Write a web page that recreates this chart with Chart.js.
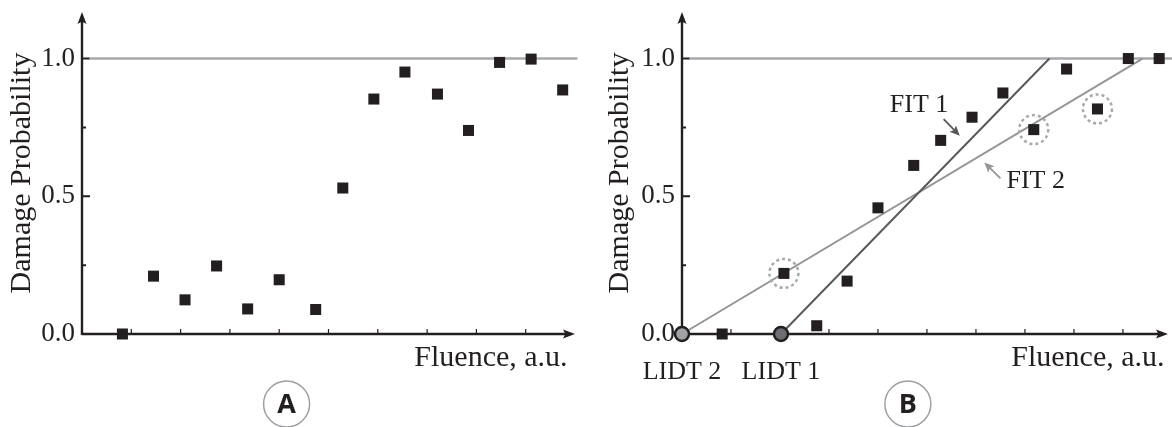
<!DOCTYPE html>
<html>
<head>
<meta charset="utf-8">
<script src="https://cdn.jsdelivr.net/npm/chart.js@4"></script>
<style>
    html, body { margin: 0; padding: 0; background: #fff; }
    #wrap { position: relative; width: 1172px; height: 427px; overflow: hidden; }
    #chartA { position: absolute; left: 0; top: 0; }
    #chartB { position: absolute; left: 586px; top: 0; }
</style>
</head>
<body>
<div id="wrap">
    <canvas id="chartA" width="586" height="427"></canvas>
    <canvas id="chartB" width="586" height="427"></canvas>
</div>
<script>
// panel A: raw damage probability per fluence step
var fluenceA = [0.82, 1.45, 2.09, 2.73, 3.36, 4.0, 4.74, 5.29, 5.92, 6.55, 7.21, 7.84, 8.47, 9.11, 9.75];
var probA = [0.0, 0.21, 0.124, 0.247, 0.091, 0.197, 0.089, 0.53, 0.853, 0.951, 0.871, 0.739, 0.986, 0.998, 0.886];

// panel B: sorted data with two linear fits
var fluenceB = [0.82, 2.08, 2.75, 3.37, 4.0, 4.73, 5.28, 5.92, 6.55, 7.18, 7.85, 8.48, 9.11, 9.74];
var probB = [0.0, 0.22, 0.03, 0.192, 0.458, 0.612, 0.703, 0.787, 0.875, 0.742, 0.962, 0.817, 1.0, 1.0];
var circledIdx = [1, 9, 11];

var fit1X = [2.02, 7.5];
var fit1Y = [0, 1];
var fit2X = [0, 9.4];
var fit2Y = [0, 1];

var lidtX = [0, 2.02];
var lidtY = [0, 0];
var lidtLabels = ["LIDT 2", "LIDT 1"];

var yTickValues = [0, 0.5, 1.0];
var yMinorTicks = [0.25, 0.75];
var xTickValues = [1, 2, 3, 4, 5, 6, 7, 8, 9];

var INK = "#231f20";
var SERIF = "'Liberation Serif', 'Times New Roman', serif";

function toPoints(xs, ys) {
    return xs.map(function(x, i) { return { x: x, y: ys[i] }; });
}

function arrowHead(ctx, x, y, angle, len, half) {
    ctx.save();
    ctx.translate(x, y);
    ctx.rotate(angle);
    ctx.beginPath();
    ctx.moveTo(0, 0);
    ctx.lineTo(-len, -half);
    ctx.lineTo(-len * 0.8, 0);
    ctx.lineTo(-len, half);
    ctx.closePath();
    ctx.fill();
    ctx.restore();
}

function arrow(ctx, x1, y1, x2, y2, color) {
    var a = Math.atan2(y2 - y1, x2 - x1);
    ctx.save();
    ctx.strokeStyle = color;
    ctx.fillStyle = color;
    ctx.lineWidth = 1.8;
    ctx.beginPath();
    ctx.moveTo(x1, y1);
    ctx.lineTo(x2 - 6 * Math.cos(a), y2 - 6 * Math.sin(a));
    ctx.stroke();
    arrowHead(ctx, x2, y2, a, 10, 4.5);
    ctx.restore();
}

// hand drawn axes with arrow tips and inward ticks
var axesPlugin = {
    id: "axes",
    beforeDatasetsDraw: function(chart) {
        var ctx = chart.ctx, area = chart.chartArea;
        var xs = chart.scales.x, ys = chart.scales.y;
        var x0 = xs.getPixelForValue(0), y0 = ys.getPixelForValue(0);
        ctx.save();
        ctx.strokeStyle = INK;
        ctx.fillStyle = INK;
        ctx.lineWidth = 1.2;
        ctx.beginPath();
        xTickValues.forEach(function(v) {
            var px = xs.getPixelForValue(v);
            ctx.moveTo(px, y0);
            ctx.lineTo(px, y0 - 5);
        });
        ctx.stroke();
        ctx.lineWidth = 2;
        ctx.beginPath();
        yTickValues.forEach(function(v) {
            var py = ys.getPixelForValue(v);
            ctx.moveTo(x0, py);
            ctx.lineTo(x0 + 8, py);
        });
        yMinorTicks.forEach(function(v) {
            var py = ys.getPixelForValue(v);
            ctx.moveTo(x0 - 1, py);
            ctx.lineTo(x0 + 4, py);
        });
        ctx.stroke();
        ctx.lineWidth = 2.4;
        ctx.beginPath();
        ctx.moveTo(x0, y0);
        ctx.lineTo(area.right - 6, y0);
        ctx.moveTo(x0, y0 + 1);
        ctx.lineTo(x0, area.top + 6);
        ctx.stroke();
        arrowHead(ctx, area.right, y0, 0, 12, 4.5);
        arrowHead(ctx, x0, area.top, -Math.PI / 2, 12, 4.5);
        ctx.restore();
    },
    beforeDatasetDraw: function(chart, args) {
        var ds = chart.data.datasets[args.index];
        if (ds.dashed) {
            chart.ctx.save();
            chart.ctx.setLineDash(ds.dashed);
        }
    },
    afterDatasetDraw: function(chart, args) {
        if (chart.data.datasets[args.index].dashed) chart.ctx.restore();
    }
};

function drawCommon(chart, letter, letterX) {
    var ctx = chart.ctx;
    var xs = chart.scales.x;
    ctx.save();
    ctx.fillStyle = INK;
    ctx.font = "30px " + SERIF;
    ctx.textAlign = "right";
    ctx.textBaseline = "alphabetic";
    ctx.fillText("Fluence, a.u.", xs.getPixelForValue(9.85), 366);

    var cx = xs.getPixelForValue(letterX), cy = 404;
    ctx.strokeStyle = "#9d9fa2";
    ctx.lineWidth = 1.5;
    ctx.beginPath();
    ctx.arc(cx, cy, 23, 0, Math.PI * 2);
    ctx.stroke();
    ctx.font = "bold 27px 'Open Sans', 'DejaVu Sans', sans-serif";
    ctx.textAlign = "center";
    ctx.textBaseline = "middle";
    ctx.fillText(letter, cx, cy + 1);
    ctx.restore();
}

var notesA = {
    id: "notesA",
    afterDraw: function(chart) {
        drawCommon(chart, "A", 4.15);
    }
};

var notesB = {
    id: "notesB",
    afterDraw: function(chart) {
        var ctx = chart.ctx;
        var xs = chart.scales.x, ys = chart.scales.y;
        drawCommon(chart, "B", 4.61);
        ctx.save();
        ctx.fillStyle = INK;
        ctx.font = "26px " + SERIF;
        ctx.textAlign = "center";
        ctx.textBaseline = "alphabetic";
        lidtX.forEach(function(v, i) {
            ctx.fillText(lidtLabels[i], xs.getPixelForValue(v), 379);
        });
        ctx.fillText("FIT 1", xs.getPixelForValue(4.84), ys.getPixelForValue(0.805));
        ctx.fillText("FIT 2", xs.getPixelForValue(7.22), ys.getPixelForValue(0.53));
        ctx.restore();
        arrow(ctx, xs.getPixelForValue(5.34), ys.getPixelForValue(0.78),
            xs.getPixelForValue(5.67), ys.getPixelForValue(0.72), "#58595b");
        arrow(ctx, xs.getPixelForValue(6.5), ys.getPixelForValue(0.565),
            xs.getPixelForValue(6.17), ys.getPixelForValue(0.623), "#939598");
    }
};

function makeOptions(xMax, padRight, leftWidth, titlePad) {
    return {
        responsive: false,
        animation: false,
        layout: { autoPadding: false, padding: { left: 0, right: padRight, top: 12, bottom: 93 } },
        plugins: { legend: { display: false }, tooltip: { enabled: false } },
        scales: {
            x: { type: "linear", min: 0, max: xMax, display: false },
            y: {
                type: "linear",
                min: 0,
                max: 1.169,
                grid: { display: false, drawTicks: false },
                border: { display: false },
                afterBuildTicks: function(scale) {
                    scale.ticks = yTickValues.map(function(v) { return { value: v }; });
                },
                afterFit: function(scale) {
                    scale.width = leftWidth;
                    scale.paddingTop = 0;
                    scale.paddingBottom = 0;
                },
                ticks: {
                    padding: 7,
                    color: INK,
                    font: { family: SERIF, size: 27 },
                    callback: function(v) { return Number(v).toFixed(1); }
                },
                title: {
                    display: true,
                    text: "Damage Probability",
                    color: INK,
                    padding: { top: titlePad, bottom: 0 },
                    font: { family: SERIF, size: 30 }
                }
            }
        }
    };
}

var pointStyleOpts = {
    showLine: false,
    pointStyle: "rect",
    pointRadius: 7.8,
    pointBackgroundColor: INK,
    pointBorderColor: INK,
    pointBorderWidth: 0,
    clip: false
};

new Chart(document.getElementById("chartA"), {
    type: "scatter",
    data: {
        datasets: [
            Object.assign({ label: "Damage", data: toPoints(fluenceA, probA), order: 1 }, pointStyleOpts),
            {
                label: "Full",
                data: toPoints([0.15, 10.05], [1, 1]),
                showLine: true,
                borderColor: "#a7a9ac",
                borderWidth: 2.5,
                pointRadius: 0,
                clip: false,
                order: 5
            }
        ]
    },
    options: makeOptions(10.0, 11, 82, 4),
    plugins: [axesPlugin, notesA]
});

new Chart(document.getElementById("chartB"), {
    type: "scatter",
    data: {
        datasets: [
            {
                label: "LIDT",
                data: toPoints(lidtX, lidtY),
                showLine: false,
                pointStyle: "circle",
                pointRadius: 7,
                pointBackgroundColor: ["#a0a2a5", "#6d6e71"],
                pointBorderColor: INK,
                pointBorderWidth: 2.5,
                clip: false,
                order: 0
            },
            Object.assign({ label: "Damage", data: toPoints(fluenceB, probB), order: 1 }, pointStyleOpts),
            {
                label: "Outliers",
                data: circledIdx.map(function(i) { return { x: fluenceB[i], y: probB[i] }; }),
                showLine: false,
                pointStyle: "circle",
                pointRadius: 14.5,
                pointBackgroundColor: "rgba(0,0,0,0)",
                pointBorderColor: "#a7a9ac",
                pointBorderWidth: 2.5,
                dashed: [3, 3],
                clip: false,
                order: 2
            },
            {
                label: "FIT 1",
                data: toPoints(fit1X, fit1Y),
                showLine: true,
                borderColor: "#58595b",
                borderWidth: 2,
                pointRadius: 0,
                clip: false,
                order: 3
            },
            {
                label: "FIT 2",
                data: toPoints(fit2X, fit2Y),
                showLine: true,
                borderColor: "#939598",
                borderWidth: 2,
                pointRadius: 0,
                clip: false,
                order: 3
            },
            {
                label: "Full",
                data: toPoints([0.15, 10.3], [1, 1]),
                showLine: true,
                borderColor: "#a7a9ac",
                borderWidth: 2.5,
                pointRadius: 0,
                clip: false,
                order: 5
            }
        ]
    },
    options: makeOptions(9.92, 4, 96, 16),
    plugins: [axesPlugin, notesB]
});
</script>
</body>
</html>
